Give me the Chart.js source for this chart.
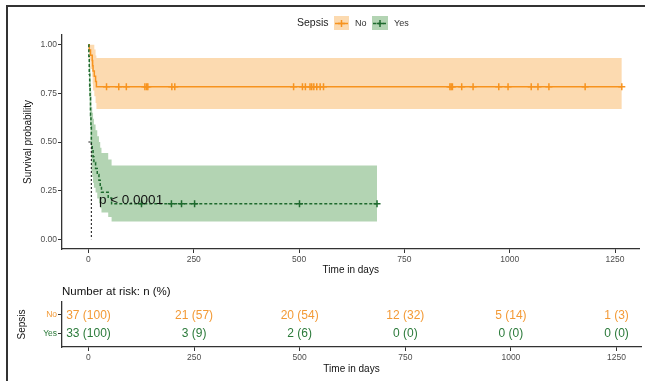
<!DOCTYPE html>
<html><head><meta charset="utf-8">
<script src="https://cdn.jsdelivr.net/npm/chart.js@4.4.1/dist/chart.umd.min.js"></script>
<style>
html,body{margin:0;padding:0;background:#fff;}
#wrap{position:relative;width:645px;height:381px;overflow:hidden;background:#fff;}
#frame{position:absolute;left:6px;top:5px;width:700px;height:420px;border-left:2px solid #333;border-top:2px solid #333;}
canvas{position:absolute;left:0;}
#c1{top:0;width:645px;height:282px;}
#c2{top:280px;width:645px;height:101px;}
</style></head><body>
<div id="wrap"><div id="frame"></div>
<canvas id="c1" width="645" height="282"></canvas>
<canvas id="c2" width="645" height="101"></canvas>
</div>
<script>
// ---------- data ----------
const groups = ['No', 'Yes'];
const timesNo = [0, 2, 5, 9, 10, 11, 14, 17, 19];
const survNo  = [1, 0.973, 0.946, 0.919, 0.892, 0.865, 0.838, 0.811, 0.784];
const upperNo = [1, 1, 1, 1, 1, 1, 0.975, 0.945, 0.932];
const lowerNo = [1, 0.92, 0.875, 0.835, 0.80, 0.765, 0.735, 0.70, 0.669];
const lastNo = 1266;
const censorNo = [43, 72, 90, 134, 138, 141, 198, 205, 487, 508, 515, 526, 530, 535, 542, 550, 558,
                  858, 861, 864, 886, 913, 974, 996, 1051, 1067, 1093, 1179, 1266];

const timesYes = [0, 1, 2, 3, 4, 5, 6, 7, 9, 11, 13, 17, 21, 25, 28, 31, 47, 55];
const survYes  = [1, 0.939, 0.848, 0.788, 0.727, 0.636, 0.576, 0.485, 0.455, 0.424, 0.394, 0.364, 0.333, 0.303, 0.273, 0.242, 0.212, 0.182];
const upperYes = [1, 1, 0.98, 0.94, 0.89, 0.82, 0.76, 0.68, 0.65, 0.62, 0.59, 0.56, 0.53, 0.50, 0.47, 0.443, 0.41, 0.379];
const lowerYes = [1, 0.86, 0.73, 0.66, 0.59, 0.50, 0.43, 0.35, 0.32, 0.29, 0.265, 0.24, 0.21, 0.185, 0.16, 0.138, 0.115, 0.0915];
const lastYes = 685;
const censorYes = [126, 197, 221, 252, 501, 685];
const medianYes = 7;

const xTicks = [0, 250, 500, 750, 1000, 1250];
const yTicks = [0, 0.25, 0.5, 0.75, 1];
const yTickLabels = ['0.00', '0.25', '0.50', '0.75', '1.00'];

const riskNoN   = [37, 21, 20, 12, 5, 1];
const riskNoPct = [100, 57, 54, 32, 14, 3];
const riskYesN   = [33, 3, 2, 0, 0, 0];
const riskYesPct = [100, 9, 6, 0, 0, 0];

const pText = 'p < 0.0001';
const pPos = {x: 25, y: 0.2};

// ---------- style ----------
const FAM = '"Liberation Sans", Arial, Helvetica, sans-serif';
Chart.defaults.font.family = FAM;
const ORANGE = '#F7931E', ORANGE_TXT = '#F39A36', ORANGE_FILL = '#FCDAB0';
const GREEN = '#1E6A2E', GREEN_TXT = '#2B7A3A', GREEN_FILL = '#B3D4B3';
const AX = '#333333', TICKTXT = '#4d4d4d';
const XMIN = -62.7, XMAX = 1308;

function stepPts(times, vals, last) {
  const p = times.map((t, i) => ({x: t, y: vals[i]}));
  p.push({x: last, y: vals[vals.length - 1]});
  return p;
}
function stepAt(times, vals, t) {
  let v = vals[0];
  for (let i = 0; i < times.length; i++) if (times[i] <= t) v = vals[i];
  return v;
}
function xScale(h) {
  return {
    type: 'linear', min: XMIN, max: XMAX,
    afterBuildTicks: s => { s.ticks = xTicks.map(v => ({value: v})); },
    afterFit: s => { s.height = h; },
    grid: {drawOnChartArea: false, drawTicks: true, tickLength: 4, color: AX},
    border: {display: true, color: AX, width: 1.3},
    ticks: {font: {size: 8.5}, color: TICKTXT, padding: 2, maxRotation: 0, autoSkip: false, callback: v => String(v)},
    title: {display: true, text: 'Time in days', font: {size: 10}, color: '#111', padding: {top: 0, bottom: 6}}
  };
}
const bandBase = {pointRadius: 0, borderWidth: 0, borderColor: 'rgba(0,0,0,0)', stepped: true};

const overlay = {
  id: 'overlay',
  afterDatasetsDraw(chart) {
    const ctx = chart.ctx, xs = chart.scales.x, ys = chart.scales.y;
    ctx.save();
    ctx.fillStyle = '#111';
    ctx.font = '13.5px ' + FAM;
    ctx.textBaseline = 'middle';
    ctx.textAlign = 'left';
    ctx.fillText(pText, xs.getPixelForValue(pPos.x), ys.getPixelForValue(pPos.y));
    ctx.restore();
  },
  afterDraw(chart) {
    const ctx = chart.ctx;
    ctx.save();
    const cy = 23.5;
    ctx.textBaseline = 'middle';
    ctx.textAlign = 'left';
    ctx.fillStyle = '#222';
    ctx.font = '10.5px ' + FAM;
    ctx.fillText('Sepsis', 297, cy);
    function key(x, w, fill, col, dash, label) {
      ctx.fillStyle = fill;
      ctx.fillRect(x, 16, w, 14);
      ctx.strokeStyle = col; ctx.lineWidth = 1.5;
      ctx.setLineDash(dash);
      ctx.beginPath(); ctx.moveTo(x + 1, cy); ctx.lineTo(x + w - 1, cy); ctx.stroke();
      ctx.setLineDash([]);
      const mx = x + w / 2;
      ctx.beginPath(); ctx.moveTo(mx, cy - 3.5); ctx.lineTo(mx, cy + 3.5);
      ctx.moveTo(mx - 3.5, cy); ctx.lineTo(mx + 3.5, cy); ctx.stroke();
      ctx.fillStyle = '#333';
      ctx.font = '9px ' + FAM;
      ctx.fillText(label, x + w + 6, cy + 0.5);
    }
    key(334, 15, ORANGE_FILL, ORANGE, [], groups[0]);
    key(372, 16, GREEN_FILL, GREEN, [3, 2], groups[1]);
    ctx.restore();
  }
};

new Chart(document.getElementById('c1'), {
  type: 'line',
  data: {
    datasets: [
      Object.assign({label: 'Yes upper', data: stepPts(timesYes, upperYes, lastYes), fill: '+1', backgroundColor: GREEN_FILL, order: 10}, bandBase),
      Object.assign({label: 'Yes lower', data: stepPts(timesYes, lowerYes, lastYes), fill: false, order: 10}, bandBase),
      Object.assign({label: 'No upper', data: stepPts(timesNo, upperNo, lastNo), fill: '+1', backgroundColor: ORANGE_FILL, order: 9}, bandBase),
      Object.assign({label: 'No lower', data: stepPts(timesNo, lowerNo, lastNo), fill: false, order: 9}, bandBase),
      {label: groups[0], data: stepPts(timesNo, survNo, lastNo), stepped: true, borderColor: ORANGE, borderWidth: 1.5, pointRadius: 0, fill: false, order: 5},
      {label: groups[1], data: stepPts(timesYes, survYes, lastYes), stepped: true, borderColor: GREEN, borderWidth: 1.5, borderDash: [3, 2], pointRadius: 0, fill: false, order: 4},
      {label: 'No censored', data: censorNo.map(t => ({x: t, y: stepAt(timesNo, survNo, t)})), showLine: false,
       pointStyle: 'cross', pointRadius: 3.5, pointBorderColor: ORANGE, pointBorderWidth: 1.5, order: 3},
      {label: 'Yes censored', data: censorYes.map(t => ({x: t, y: stepAt(timesYes, survYes, t)})), showLine: false,
       pointStyle: 'cross', pointRadius: 3.5, pointBorderColor: GREEN, pointBorderWidth: 1.5, order: 2},
      {label: 'median', data: [{x: 0, y: 0.5}, {x: medianYes, y: 0.5}, {x: medianYes, y: 0}], borderColor: '#222',
       borderWidth: 1.1, borderDash: [2, 2], pointRadius: 0, fill: false, order: 1}
    ]
  },
  options: {
    responsive: false, animation: false, devicePixelRatio: 1,
    layout: {padding: {left: 0, right: 4, top: 35, bottom: 0}},
    plugins: {legend: {display: false}, tooltip: {enabled: false}},
    scales: {
      x: xScale(33),
      y: {
        type: 'linear', min: -0.05, max: 1.05,
        afterBuildTicks: s => { s.ticks = yTicks.map(v => ({value: v})); },
        afterFit: s => { s.width = 62; },
        grid: {drawOnChartArea: false, drawTicks: true, tickLength: 4, color: AX},
        border: {display: true, color: AX, width: 1.3},
        ticks: {font: {size: 8.5}, color: TICKTXT, padding: 1, callback: v => yTickLabels[yTicks.indexOf(v)]},
        title: {display: true, text: 'Survival probability', font: {size: 10}, color: '#111', padding: {top: 22, bottom: 0}}
      }
    }
  },
  plugins: [overlay]
});

// ---------- risk table ----------
const riskPlugin = {
  id: 'risk',
  afterDatasetsDraw(chart) {
    const ctx = chart.ctx;
    ctx.save();
    ctx.textBaseline = 'middle';
    ctx.textAlign = 'left';
    ctx.fillStyle = '#111';
    ctx.font = '11.5px ' + FAM;
    ctx.fillText('Number at risk: n (%)', chart.chartArea.left, 12);
    ctx.textAlign = 'center';
    ctx.font = '12px ' + FAM;
    chart.data.datasets.forEach((ds, di) => {
      const meta = chart.getDatasetMeta(di);
      ctx.fillStyle = ds.textColor;
      meta.data.forEach((el, i) => {
        const d = ds.data[i];
        ctx.fillText(d.n + ' (' + d.p + ')', el.x, el.y + 0.5);
      });
    });
    ctx.restore();
  }
};

new Chart(document.getElementById('c2'), {
  type: 'line',
  data: {
    datasets: [
      {label: groups[0], data: xTicks.map((t, i) => ({x: t, y: 1, n: riskNoN[i], p: riskNoPct[i]})),
       showLine: false, pointRadius: 0, textColor: ORANGE_TXT},
      {label: groups[1], data: xTicks.map((t, i) => ({x: t, y: 2, n: riskYesN[i], p: riskYesPct[i]})),
       showLine: false, pointRadius: 0, textColor: GREEN_TXT}
    ]
  },
  options: {
    responsive: false, animation: false, devicePixelRatio: 1,
    layout: {padding: {left: 0, right: 4, top: 22, bottom: 0}},
    plugins: {legend: {display: false}, tooltip: {enabled: false}},
    scales: {
      x: xScale(34),
      y: {
        type: 'linear', min: 0.3, max: 2.75, reverse: true,
        afterBuildTicks: s => { s.ticks = [1, 2].map(v => ({value: v})); },
        afterFit: s => { s.width = 62; },
        grid: {drawOnChartArea: false, drawTicks: true, tickLength: 4, color: AX},
        border: {display: true, color: AX, width: 1.3},
        ticks: {font: {size: 8.5}, padding: 1, callback: v => groups[v - 1],
                color: c => (c.tick && c.tick.value === 1) ? ORANGE_TXT : GREEN_TXT},
        title: {display: true, text: 'Sepsis', font: {size: 10}, color: '#111', padding: {top: 16, bottom: 0}}
      }
    }
  },
  plugins: [riskPlugin]
});
</script>
</body></html>
